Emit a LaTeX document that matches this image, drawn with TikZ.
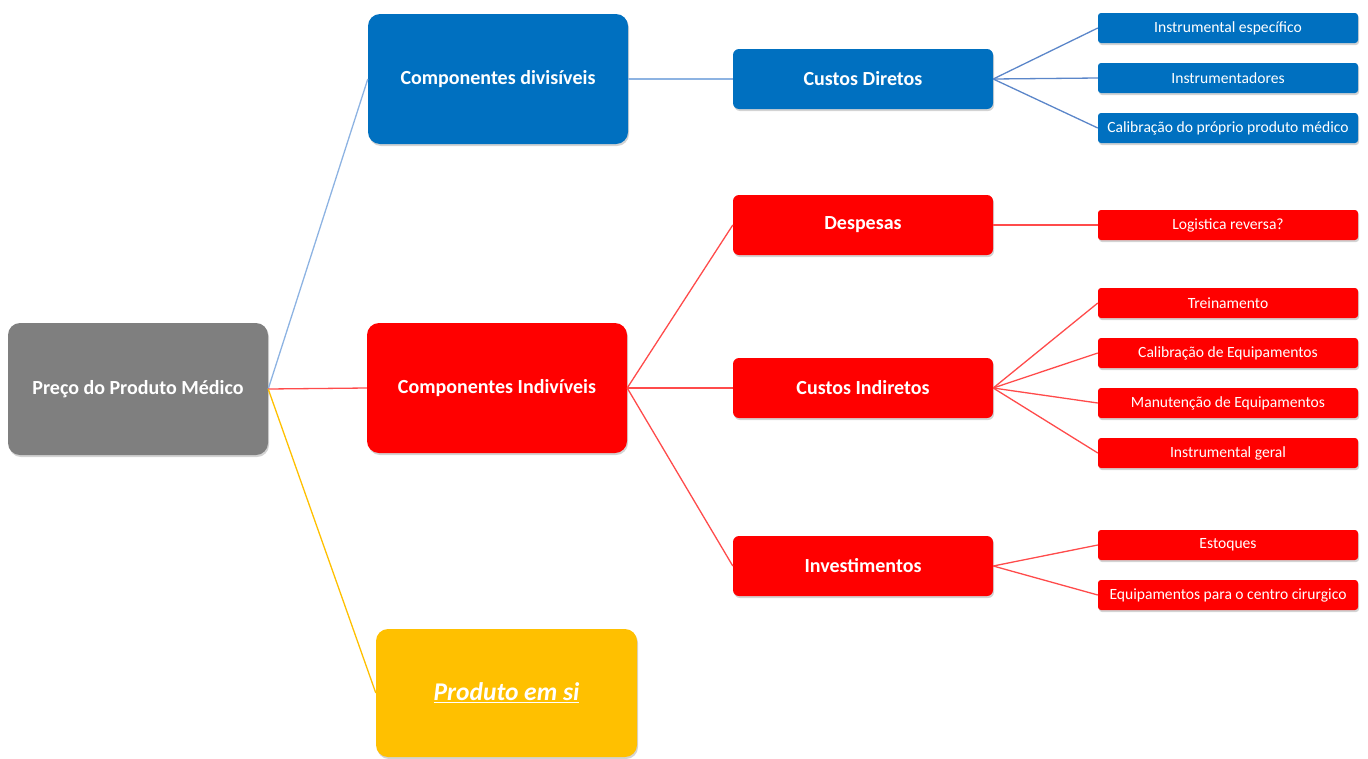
\documentclass[tikz,border=0pt]{standalone}
\usepackage{fontspec}
\setmainfont{Carlito}
\usetikzlibrary{shadows}
\definecolor{cgray}{HTML}{7F7F7F}
\definecolor{cblue}{HTML}{0070C0}
\definecolor{cred}{HTML}{FF0000}
\definecolor{cgold}{HTML}{FFC000}
\definecolor{lblue}{HTML}{8DB3E2}
\definecolor{lblue2}{HTML}{5B86C9}
\definecolor{lred}{HTML}{FF4B4B}
\begin{document}
\begin{tikzpicture}[x=1pt,y=-1pt,
  box/.style={draw=none,text=white,inner sep=0pt,align=center,
    drop shadow={opacity=0.35,shadow xshift=1pt,shadow yshift=-2pt}},
  bigbox/.style={box,rounded corners=12pt,minimum width=260pt,minimum height=130pt,
    font=\fontsize{20pt}{23pt}\selectfont\bfseries},
  midbox/.style={box,rounded corners=6pt,minimum width=260pt,minimum height=60pt,
    font=\fontsize{20pt}{23pt}\selectfont\bfseries},
  leafbox/.style={box,rounded corners=3pt,minimum width=260pt,minimum height=30pt,
    font=\fontsize{15.6pt}{18pt}\selectfont},
  bline/.style={draw=lblue,line width=1.3pt},
  bline2/.style={draw=lblue2,line width=1.3pt},
  rline/.style={draw=lred,line width=1.3pt},
  yline/.style={draw=cgold,line width=1.3pt}]
\useasboundingbox (0,0) rectangle (1368,758);
% level 0
\node[bigbox,fill=cgray,minimum height=132pt] (root) at (138,389) {Preço do Produto Médico};
% level 1
\node[bigbox,fill=cblue] (cdiv) at (498,79) {Componentes divisíveis};
\node[bigbox,fill=cred] (cind) at (497,388) {Componentes Indivíveis};
\node[bigbox,fill=cgold,minimum width=261pt,minimum height=128pt,
  font=\fontsize{25.5pt}{28pt}\selectfont\bfseries\itshape] (prod) at (506.5,693) {\underline{Produto em si}};
% level 2
\node[midbox,fill=cblue] (cdir) at (863,79) {Custos Diretos};
\node[midbox,fill=cred] (desp) at (863,225) {Despesas};
\node[midbox,fill=cred] (cindir) at (863,388) {Custos Indiretos};
\node[midbox,fill=cred] (inv) at (863,566) {Investimentos};
% leaves
\node[leafbox,fill=cblue] (l1) at (1228,28) {Instrumental específico};
\node[leafbox,fill=cblue] (l2) at (1228,78) {Instrumentadores};
\node[leafbox,fill=cblue] (l3) at (1228,128) {Calibração do próprio produto médico};
\node[leafbox,fill=cred] (l4) at (1228,225) {Logistica reversa?};
\node[leafbox,fill=cred] (l5) at (1228,303) {Treinamento};
\node[leafbox,fill=cred] (l6) at (1228,353) {Calibração de Equipamentos};
\node[leafbox,fill=cred] (l7) at (1228,403) {Manutenção de Equipamentos};
\node[leafbox,fill=cred] (l8) at (1228,453) {Instrumental geral};
\node[leafbox,fill=cred] (l9) at (1228,545) {Estoques};
\node[leafbox,fill=cred] (l10) at (1228,595) {Equipamentos para o centro cirurgico};
% connectors
\draw[bline] (root.east) -- (cdiv.west);
\draw[rline] (root.east) -- (cind.west);
\draw[yline] (root.east) -- (prod.west);
\draw[bline] (cdiv.east) -- (cdir.west);
\draw[rline] (cind.east) -- (desp.west);
\draw[rline] (cind.east) -- (cindir.west);
\draw[rline] (cind.east) -- (inv.west);
\draw[bline2] (cdir.east) -- (l1.west);
\draw[bline2] (cdir.east) -- (l2.west);
\draw[bline2] (cdir.east) -- (l3.west);
\draw[rline] (desp.east) -- (l4.west);
\draw[rline] (cindir.east) -- (l5.west);
\draw[rline] (cindir.east) -- (l6.west);
\draw[rline] (cindir.east) -- (l7.west);
\draw[rline] (cindir.east) -- (l8.west);
\draw[rline] (inv.east) -- (l9.west);
\draw[rline] (inv.east) -- (l10.west);
\end{tikzpicture}
\end{document}
